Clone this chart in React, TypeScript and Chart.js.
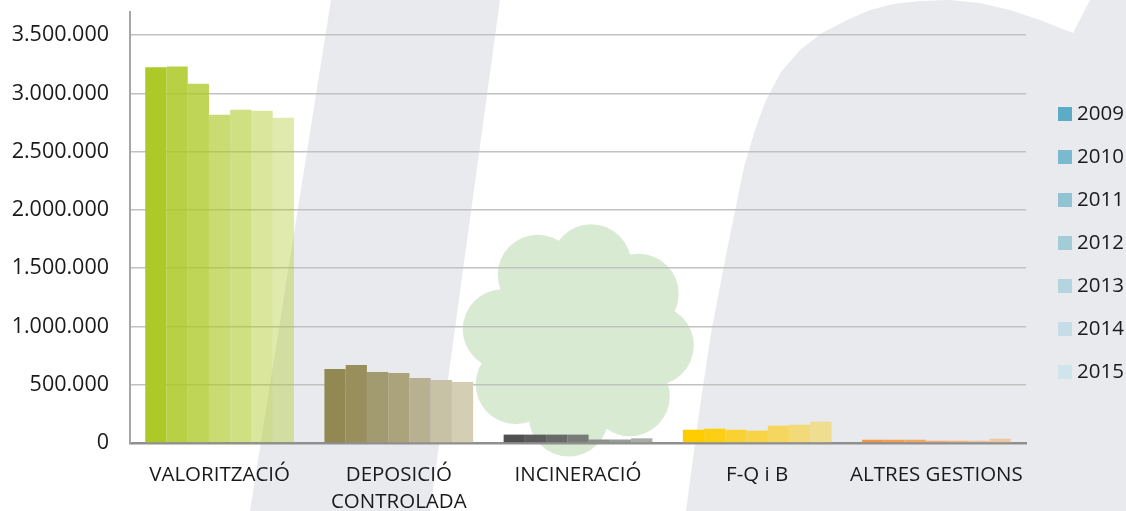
import React, { useEffect, useRef } from 'react';
import { Chart, registerables } from 'chart.js';

Chart.register(...registerables);

const categories: (string | string[])[] = [
  'VALORITZACIÓ',
  ['DEPOSICIÓ', 'CONTROLADA'],
  'INCINERACIÓ',
  'F-Q i B',
  'ALTRES GESTIONS',
];
const years = ['2009', '2010', '2011', '2012', '2013', '2014', '2015'];

const values2009 = [3225000, 636000, 72000, 114000, 28000];
const values2010 = [3233000, 670000, 72000, 123000, 28000];
const values2011 = [3084000, 610000, 72000, 114000, 28000];
const values2012 = [2818000, 601000, 72000, 106000, 20000];
const values2013 = [2861000, 558000, 30000, 149000, 20000];
const values2014 = [2852000, 541000, 30000, 157000, 20000];
const values2015 = [2792000, 524000, 40000, 183000, 37000];
const seriesValues = [values2009, values2010, values2011, values2012, values2013, values2014, values2015];

const yTicks = [0, 500000, 1000000, 1500000, 2000000, 2500000, 3000000, 3500000];
const yMax = 3700000;

// colours per category, one per year (2009..2015)
const greenColors = [
  'rgba(173,201,40,1)', 'rgba(173,201,40,0.87)', 'rgba(173,201,40,0.78)', 'rgba(173,201,40,0.66)',
  'rgba(173,201,40,0.58)', 'rgba(173,201,40,0.46)', 'rgba(173,201,40,0.39)',
];
const oliveColors = [
  'rgb(146,136,82)', 'rgb(152,143,93)', 'rgb(162,155,111)', 'rgb(170,163,124)',
  'rgb(183,177,145)', 'rgb(199,193,166)', 'rgb(212,206,181)',
];
const grayColors = [
  'rgb(80,80,80)', 'rgb(92,92,92)', 'rgb(104,106,104)', 'rgb(120,124,118)',
  'rgb(140,142,138)', 'rgb(152,156,150)', 'rgb(168,172,166)',
];
const yellowColors = [
  'rgb(255,204,0)', 'rgb(252,206,20)', 'rgb(249,209,50)', 'rgb(247,212,70)',
  'rgb(245,215,95)', 'rgb(242,218,120)', 'rgb(240,222,144)',
];
const orangeColors = [
  'rgb(241,150,70)', 'rgb(242,158,85)', 'rgb(242,166,100)', 'rgb(242,175,120)',
  'rgb(242,183,135)', 'rgb(240,192,152)', 'rgb(238,200,165)',
];
const categoryColors = [greenColors, oliveColors, grayColors, yellowColors, orangeColors];

const legendColors = [
  'rgb(91,173,199)', 'rgb(122,186,206)', 'rgb(146,195,211)', 'rgb(163,204,217)',
  'rgb(180,212,223)', 'rgb(196,221,230)', 'rgb(208,228,235)',
];

const FONT = "'Open Sans', 'Noto Sans', sans-serif";
const TEXT_COLOR = '#1a1a1a';

function formatThousands(v: number): string {
  return String(Math.round(v)).replace(/\B(?=(\d{3})+(?!\d))/g, '.');
}

const watermarkPlugin = {
  id: 'watermark',
  beforeDraw(chart: any) {
    const ctx = chart.ctx as CanvasRenderingContext2D;
    const w = chart.width;
    const h = chart.height;
    ctx.save();
    ctx.fillStyle = '#ffffff';
    ctx.fillRect(0, 0, w, h);

    const gray = 'rgb(233,234,238)';
    ctx.fillStyle = gray;
    // slanted stripe
    ctx.beginPath();
    ctx.moveTo(331, 0);
    ctx.lineTo(500, 0);
    ctx.lineTo(430, h);
    ctx.lineTo(250, h);
    ctx.closePath();
    ctx.fill();

    // big arc shape on the right
    const pts = [
      [686, h], [698, 420], [711, 333], [727, 250], [744, 167], [755, 130], [766, 100],
      [781, 72], [800, 50], [822, 33], [847, 20], [870, 10], [893, 4], [920, 1], [950, 0],
      [980, 3], [1010, 10], [1040, 20], [1073, 33], [1090, 0], [w, 0], [w, h],
    ];
    ctx.beginPath();
    pts.forEach((p, i) => (i === 0 ? ctx.moveTo(p[0], p[1]) : ctx.lineTo(p[0], p[1])));
    ctx.closePath();
    ctx.fill();

    // cloud
    ctx.fillStyle = 'rgb(217,234,211)';
    const cx0 = 578;
    const cy0 = 340;
    const angles = [-122, -80, -37, 4, 47, 97, 145, -172];
    ctx.beginPath();
    ctx.arc(cx0, cy0, 82, 0, Math.PI * 2);
    ctx.fill();
    angles.forEach((a) => {
      const rad = (a * Math.PI) / 180;
      ctx.beginPath();
      ctx.arc(cx0 + Math.cos(rad) * 76, cy0 + Math.sin(rad) * 77, 40, 0, Math.PI * 2);
      ctx.fill();
    });
    ctx.restore();
  },
};

const legendPlugin = {
  id: 'sideLegend',
  afterDraw(chart: any) {
    const ctx = chart.ctx as CanvasRenderingContext2D;
    const area = chart.chartArea;
    const x = area.right + 32;
    const y0 = area.top + 102;
    const step = 43;
    ctx.save();
    ctx.font = `20.5px ${FONT}`;
    ctx.textBaseline = 'middle';
    ctx.textAlign = 'left';
    years.forEach((yr, i) => {
      const cy = y0 + i * step;
      ctx.fillStyle = legendColors[i];
      ctx.fillRect(x, cy - 7, 14, 14);
      ctx.fillStyle = TEXT_COLOR;
      ctx.fillText(yr, x + 19, cy);
    });
    ctx.restore();
  },
};

export default function App() {
  const canvasRef = useRef<HTMLCanvasElement | null>(null);

  useEffect(() => {
    if (!canvasRef.current) return;
    const datasets = years.map((yr, i) => ({
      label: yr,
      data: seriesValues[i],
      backgroundColor: categoryColors.map((c) => c[i]),
      borderWidth: 0,
      categoryPercentage: 0.83,
      barPercentage: 1.0,
    }));

    const chart = new Chart(canvasRef.current, {
      type: 'bar',
      data: { labels: categories as any, datasets },
      options: {
        animation: false,
        responsive: false,
        devicePixelRatio: 1,
        layout: { padding: { top: 12, right: 100, left: 0, bottom: 0 } },
        plugins: {
          legend: { display: false },
          tooltip: { enabled: false },
        },
        scales: {
          x: {
            grid: { display: false, drawTicks: false },
            border: { display: true, color: '#8f8f8f', width: 2.5 },
            ticks: {
              color: TEXT_COLOR,
              font: { family: FONT, size: 20.5, lineHeight: 1.33 },
              padding: 18.5,
              maxRotation: 0,
              autoSkip: false,
            },
            afterFit(scale: any) {
              scale.height = 68;
            },
          },
          y: {
            min: 0,
            max: yMax,
            afterBuildTicks(scale: any) {
              scale.ticks = yTicks.map((v) => ({ value: v }));
            },
            grid: { color: '#c2c2c2', lineWidth: 1.6, drawTicks: false },
            border: { display: true, color: '#a6a6a6', width: 2 },
            ticks: {
              color: TEXT_COLOR,
              font: { family: FONT, size: 21.5 },
              padding: 21,
              callback: (v: any) => formatThousands(Number(v)),
            },
            afterFit(scale: any) {
              scale.width = 130;
              scale.paddingTop = 0;
              scale.paddingBottom = 0;
            },
          },
        },
      },
      plugins: [watermarkPlugin, legendPlugin],
    });
    return () => chart.destroy();
  }, []);

  return (
    <div style={{ position: 'absolute', left: 0, top: 0, width: 1126, height: 511 }}>
      <canvas ref={canvasRef} width={1126} height={511} style={{ display: 'block' }} />
    </div>
  );
}
